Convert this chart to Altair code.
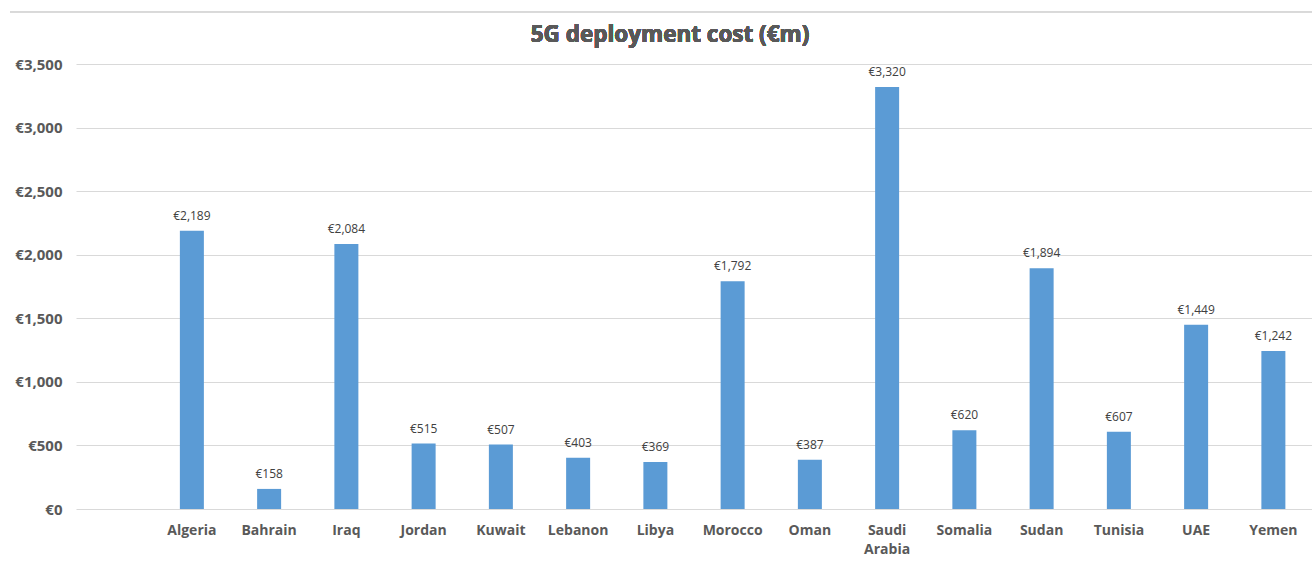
import altair as alt
import pandas as pd

countries = ["Algeria", "Bahrain", "Iraq", "Jordan", "Kuwait", "Lebanon", "Libya",
             "Morocco", "Oman", "Saudi Arabia", "Somalia", "Sudan", "Tunisia", "UAE", "Yemen"]
costs = [2189, 158, 2084, 515, 507, 403, 369, 1792, 387, 3320, 620, 1894, 607, 1449, 1242]
y_ticks = [0, 500, 1000, 1500, 2000, 2500, 3000, 3500]
title_text = "5G deployment cost (€m)"

df = pd.DataFrame({"country": countries, "cost": costs})
domain = [""] + countries

W, H = 1236, 445
FONT = "Open Sans"
GREY = "#595959"

x = alt.X("country:N", scale=alt.Scale(domain=domain), sort=domain,
          axis=alt.Axis(title=None, labelAngle=0, labelFont=FONT, labelFontSize=14,
                        labelFontWeight="bold", labelColor=GREY, ticks=False, domain=False,
                        labelPadding=14, labelExpr="split(datum.label, ' ')",
                        labelLineHeight=19))
y = alt.Y("cost:Q", scale=alt.Scale(domain=[0, 3500], nice=False),
          axis=alt.Axis(title=None, values=y_ticks, labelFont=FONT, labelFontSize=15,
                        labelFontWeight="bold", labelColor=GREY, ticks=False, domain=False,
                        labelPadding=14, gridColor="#d9d9d9", gridWidth=1,
                        labelExpr="'€' + format(datum.value, ',')"))

base = alt.Chart(df)
bars = base.mark_bar(size=24, color="#5B9BD5").encode(x=x, y=y)
labels = base.mark_text(font=FONT, fontSize=12, color="#404040", baseline="bottom", dy=-8).encode(
    x=alt.X("country:N", scale=alt.Scale(domain=domain), sort=domain),
    y=alt.Y("cost:Q"),
    text=alt.Text("lbl:N")
).transform_calculate(lbl="'€' + format(datum.cost, ',')")

top_rule = base.mark_rule(color="#d9d9d9", strokeWidth=1).encode(
    x=alt.value(-66), x2=alt.value(W), y=alt.value(-52))

title = base.mark_text(text=title_text, font=FONT, fontSize=22.5, fontWeight="bold",
                       color=GREY, align="center", baseline="middle").encode(
    x=alt.value(594), y=alt.value(-29))

chart = alt.layer(top_rule, title, bars, labels).properties(
    width=W, height=H,
    autosize=alt.AutoSizeParams(type="none"),
    padding={"left": 76, "top": 64, "right": 0, "bottom": 52},
).configure(background="white").configure_view(stroke=None)

chart.save("out.html", embed_options={"renderer": "svg", "actions": False})
